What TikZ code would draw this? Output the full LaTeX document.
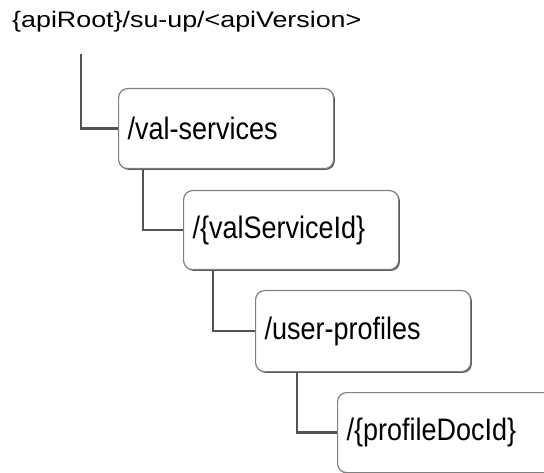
\documentclass[tikz,border=0pt]{standalone}
\usepackage{fontspec}
\setmainfont{Liberation Sans}
\usetikzlibrary{shadows,calc}
\newcommand{\boxtxt}[1]{\scalebox{1}[1.15]{#1}}
\begin{document}
\begin{tikzpicture}[x=1pt,y=-1pt,
  resbox/.style={draw=black!50, line width=1.2pt, rounded corners=9pt, fill=white,
    minimum width=215pt, minimum height=80pt, anchor=north west,
    text width=197pt, align=left, inner xsep=9pt, inner ysep=0pt,
    font=\fontsize{27}{30}\selectfont,
    drop shadow={shadow xshift=1.3pt, shadow yshift=-1.3pt, fill=black!65, opacity=1}},
  conn/.style={draw=black!68, line width=2.3pt}]
\clip (0,0) rectangle (544,473);
\useasboundingbox (0,0) rectangle (544,473);
\node[anchor=base west, inner sep=0pt] (root) at (12,28)
  {\scalebox{1.22}[1.02]{\fontsize{22}{26}\selectfont\{apiRoot\}/su-up/<apiVersion>}};
\coordinate (r0) at (81,54);
\node[resbox] (b1) at (118,88) {\boxtxt{/val-services}};
\node[resbox, minimum height=79pt] (b2) at (183,190) {\boxtxt{/\{valServiceId\}}};
\node[resbox, minimum height=81pt] (b3) at (255,290) {\boxtxt{/user-profiles}};
\node[resbox] (b4) at (337,392) {\boxtxt{/\{profileDocId\}}};
\draw[conn] (r0) |- (b1.west);
\draw[conn] ($(b1.south west)+(25,0)$) |- (b2.west);
\draw[conn] ($(b2.south west)+(30,0)$) |- (b3.west);
\draw[conn] ($(b3.south west)+(42,0)$) |- (b4.west);
\end{tikzpicture}
\end{document}
